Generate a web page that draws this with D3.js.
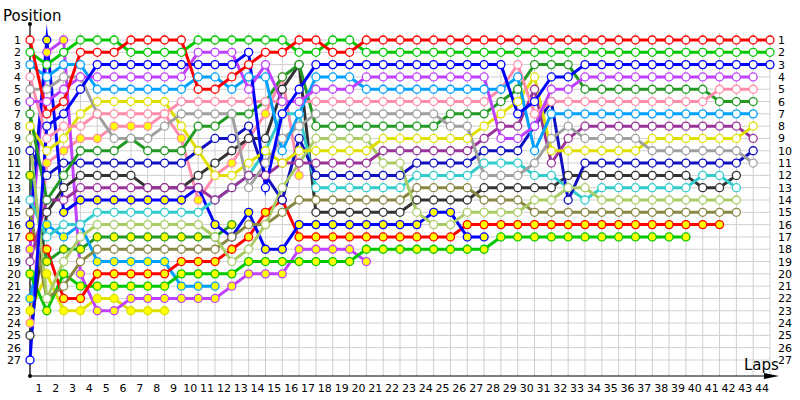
<!DOCTYPE html>
<html>
<head>
<meta charset="utf-8">
<script src="https://cdn.jsdelivr.net/npm/d3@7"></script>
<style>
  body { margin: 0; background: #fff; }
</style>
</head>
<body>
<div id="chart"></div>
<script>
// race position of each car per lap (index = lap, lap 0 = grid); array ends when the car stops
const redPos = [1,7,6,2,2,2,1,1,1,1, 5,5,4,3,2,2,1,1,2,2, 1,1,1,1,1,1,1,1,1,1, 1,1,1,1,1,1,1,1,1,1, 1,1,1,1,1];
const limePos = [2,3,2,1,1,1,2,2,2,2, 1,1,1,1,1,1,2,2,1,1, 2,2,2,2,2,2,2,2,2,2, 2,2,2,2,2,2,2,2,2,2, 2,2,2,2,2];
const bluePos = [27,8,7,5,3,3,3,3,3,3, 3,3,3,2,13,7,5,3,3,3, 3,3,3,3,3,3,3,3,3,7, 6,4,4,3,3,3,3,3,3,3, 3,3,3,3,3];
const violetPos = [6,6,5,4,4,4,4,4,4,4, 2,2,2,5,3,6,6,5,5,5, 4,4,4,4,4,4,4,4,9,9, 8,5,5,4,4,4,4,4,4,4, 4,4,4,4];
const skyPos = [3,4,3,3,5,5,5,5,5,5, 4,4,5,4,4,10,7,4,4,4, 5,5,5,5,5,5,5,5,5,4, 10,7,7,7,7,7,7,7,7,7, 7,7,7,7];
const pinkPos = [4,9,8,8,7,7,7,7,7,6, 6,6,6,6,6,6,6,6,6,6, 6,6,6,6,6,6,6,6,5,3, 7,6,6,6,6,6,6,6,6,6, 6,5,5,5];
const grayPos = [5,5,4,4,7,9,9,9,8,7, 7,7,7,13,11,9,8,7,7,7, 7,7,7,7,7,8,8,12,12,12, 11,9,8,9,9,9,9,10,10,10, 10,10,10,11];
const forestPos = [7,14,12,10,10,10,9,10,10,10, 8,8,7,7,6,4,3,8,8,8, 8,8,8,8,8,7,7,7,6,5, 3,3,3,5,5,5,5,5,5,5, 5,6,6,6];
const yellowPos = [8,10,9,7,6,6,6,6,6,8, 10,12,12,11,10,11,10,10,10,10, 10,9,9,9,9,9,9,8,7,6, 4,10,10,10,10,10,10,9,9,9, 9,9,9,8];
const plumPos = [19,14,14,13,13,13,13,13,13,13, 13,14,13,12,12,11,11,11,11,11, 11,10,10,10,10,10,10,9,8,8, 5,11,9,8,8,8,8,8,8,8, 8,8,8,9];
const sagePos = [9,22,19,17,16,16,16,16,16,16, 16,17,19,18,16,13,11,9,9,9, 9,11,11,15,16,16,15,15,15,15, 14,14,13,13,14,14,14,14,14,14, 14,14,14];
const navyPos = [10,12,11,11,11,11,11,11,11,11, 10,9,9,8,12,14,9,12,12,12, 12,12,12,11,11,11,11,10,10,10, 8,6,14,11,11,11,11,11,11,11, 11,11,11,10];
const cyanPos = [14,17,16,16,15,15,15,15,15,15, 15,14,13,12,10,7,7,13,13,13, 13,13,13,12,12,12,12,11,11,11, 12,12,13,14,13,13,13,13,13,13, 12,12,13];
const olivePos = [15,22,21,19,18,18,18,18,18,18, 18,18,17,16,16,15,14,14,14,14, 14,14,14,13,13,13,13,14,14,14, 15,15,15,15,15,15,15,15,15,15, 15,15,15];
const charcoalPos = [25,15,13,12,12,12,12,13,13,13, 12,11,10,9,9,5,3,15,15,15, 15,15,15,14,14,14,14,13,13,13, 13,13,12,12,12,12,12,12,12,12, 13,13,12];
// lapped cars (yellow markers)
const blueLapPos = [16,1,15,14,14,14,14,14,14,14, 13,16,17,15,18,18,16,16,16,16, 16,16,16,16,15,15,17,17];
const redLapPos = [17,18,22,22,20,20,20,20,20,19, 19,19,18,17,15,14,17,17,17,17, 17,17,17,17,17,17,16,16,16,16, 16,16,16,16,16,16,16,16,16,16, 16,16];
const limeLapPos = [20,23,20,21,21,21,21,21,21,20, 20,20,20,19,19,19,19,19,19,19, 18,18,18,18,18,18,18,18,17,17, 17,17,17,17,17,17,17,17,17,17];
const violetLapPos = [18,2,1,20,23,23,22,22,22,22, 22,22,21,20,20,20,18,18,18,18, 19];
const skyLapPos = [22,16,17,16,19,19,19,19,19,21, 21,21];
const yellowLapPos = [23,20,23,23,22,22,23,23,23];
const pinkLapPos = [24,11,10,9,9,8,8,8,7,9, 14,12,11,9,7,4,12];
const greenLapPos = [12,19,18,18,17,17,17,17,17,17, 17,17,16];

const seriesPositions = [redPos, limePos, bluePos, violetPos, skyPos, pinkPos, grayPos, forestPos,
  yellowPos, plumPos, sagePos, navyPos, cyanPos, olivePos, charcoalPos,
  blueLapPos, redLapPos, limeLapPos, violetLapPos, skyLapPos, yellowLapPos, pinkLapPos, greenLapPos];
const seriesColors = ['#ff0000', '#00c800', '#0000ff', '#c040ff', '#00a0ff', '#ff8cab', '#a0a0a0', '#229922',
  '#e0e000', '#993399', '#aacc66', '#1010c0', '#33cccc', '#888844', '#333333',
  '#0000ff', '#ff0000', '#00c800', '#c040ff', '#00a0ff', '#e0e000', '#ff8cab', '#229922'];
const seriesLapped = [false, false, false, false, false, false, false, false,
  false, false, false, false, false, false, false,
  true, true, true, true, true, true, true, true];

const lapTicks = d3.range(1, 45);
const positionTicks = d3.range(1, 28);

const width = 800, height = 400;
const x = d3.scaleLinear().domain([0, 44]).range([30, 770]);
const y = d3.scaleLinear().domain([1, 27]).range([40, 360]);
const axisY = 376;

const svg = d3.select('#chart').append('svg')
  .attr('width', width)
  .attr('height', height)
  .style('font-family', 'DejaVu Sans, Verdana, sans-serif');

// grid
svg.append('g').selectAll('line').data(d3.range(0, 45)).join('line')
  .attr('x1', d => x(d)).attr('x2', d => x(d))
  .attr('y1', 33).attr('y2', axisY)
  .attr('stroke', '#cfcfcf').attr('stroke-width', 1);
svg.append('g').selectAll('line').data(positionTicks).join('line')
  .attr('x1', x(0)).attr('x2', x(44))
  .attr('y1', d => y(d)).attr('y2', d => y(d))
  .attr('stroke', '#cfcfcf').attr('stroke-width', 1);

// position labels left and right
const leftAxis = svg.append('g')
  .attr('transform', `translate(${x(0)},0)`)
  .call(d3.axisLeft(y).tickValues(positionTicks).tickSize(0).tickPadding(9));
const rightAxis = svg.append('g')
  .attr('transform', `translate(${x(44)},0)`)
  .call(d3.axisRight(y).tickValues(positionTicks).tickSize(0).tickPadding(8));
const bottomAxis = svg.append('g')
  .attr('transform', `translate(0,${axisY})`)
  .call(d3.axisBottom(x).tickValues(lapTicks.map(l => l - 0.5)).tickFormat(d => d + 0.5).tickSize(0).tickPadding(8));
[leftAxis, rightAxis, bottomAxis].forEach(g => {
  g.select('.domain').remove();
  g.selectAll('text').style('font-size', '11px').style('font-family', 'DejaVu Sans, Verdana, sans-serif').attr('fill', '#000');
});

// axis lines
svg.append('line').attr('x1', x(0)).attr('x2', x(0)).attr('y1', 24).attr('y2', axisY)
  .attr('stroke', '#000').attr('stroke-width', 1.2);
svg.append('line').attr('x1', x(0)).attr('x2', 768).attr('y1', axisY).attr('y2', axisY)
  .attr('stroke', '#000').attr('stroke-width', 1.2);
svg.append('path').attr('d', `M764,${axisY - 3}L779,${axisY}L764,${axisY + 3}Z`).attr('fill', '#000');
svg.append('circle').attr('cx', x(0)).attr('cy', 24).attr('r', 2).attr('fill', '#000');
svg.append('circle').attr('cx', x(0)).attr('cy', axisY).attr('r', 2).attr('fill', '#000');

svg.append('text').attr('x', 3).attr('y', 21).style('font-size', '15px').text('Position');
svg.append('text').attr('x', 744).attr('y', 370).style('font-size', '15px').text('Laps');

// race lines
const line = d3.line().x((d, i) => x(i)).y(d => y(d));
const order = d3.range(seriesPositions.length).reverse();

svg.append('g').selectAll('path').data(order).join('path')
  .attr('d', i => line(seriesPositions[i]))
  .attr('fill', 'none')
  .attr('stroke', i => seriesColors[i])
  .attr('stroke-width', 3)
  .attr('stroke-linejoin', 'miter')
  .attr('stroke-miterlimit', 20);

order.forEach(i => {
  svg.append('g').selectAll('circle').data(seriesPositions[i]).join('circle')
    .attr('cx', (d, lap) => x(lap))
    .attr('cy', d => y(d))
    .attr('r', 4)
    .attr('fill', seriesLapped[i] ? '#ffff00' : '#ffffff')
    .attr('stroke', seriesColors[i])
    .attr('stroke-width', 1.3);
});
</script>
</body>
</html>
